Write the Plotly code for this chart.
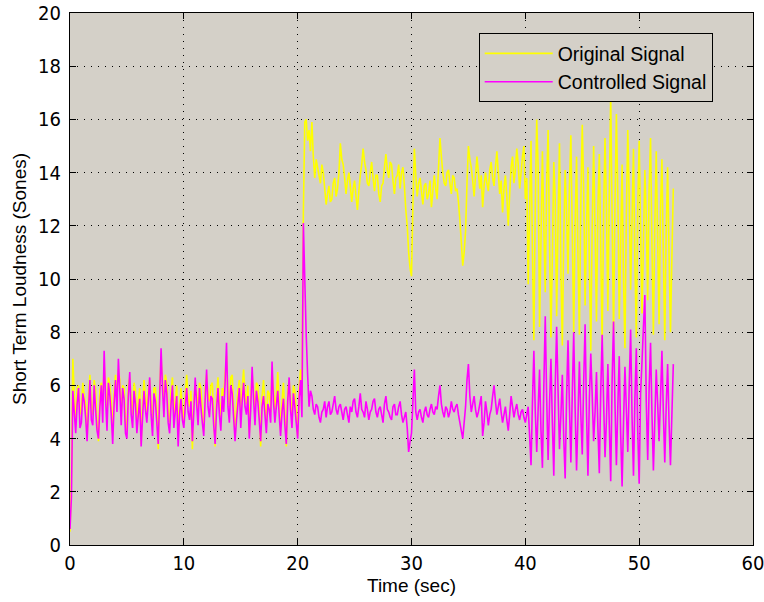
import plotly.graph_objects as go

DT = 0.125  # sampling step in seconds

original_signal = [
    # 0 - 20.375 s
    0.5, 2.5, 7.0, 5.6, 4.5, 5.9, 6.0, 4.9, 5.2, 6.1, 5.6, 5.3, 4.0, 5.6, 6.4, 5.2, 4.9, 6.2, 5.8, 4.6,
    3.9, 5.8, 6.1, 5.3, 6.8, 5.9, 4.9, 6.3, 6.0, 5.4, 4.2, 5.7, 6.4, 5.6, 6.6, 6.2, 4.8, 6.0, 5.9, 4.7,
    4.3, 6.0, 6.3, 5.5, 4.9, 6.1, 5.8, 4.5, 5.4, 5.9, 3.8, 5.3, 6.2, 5.6, 5.0, 5.8, 6.2, 5.4, 4.5, 5.9,
    5.9, 5.1, 3.6, 5.9, 7.0, 6.2, 5.3, 6.4, 6.1, 5.0, 4.6, 5.8, 6.3, 4.9, 5.4, 6.0, 4.0, 5.3, 5.9, 5.1,
    4.6, 5.7, 6.4, 5.5, 5.2, 5.8, 3.6, 5.4, 6.0, 5.7, 5.1, 6.1, 5.9, 5.0, 4.3, 5.9, 6.4, 5.7, 5.4, 6.0,
    6.1, 4.9, 3.7, 5.6, 6.3, 5.4, 4.8, 5.9, 5.6, 6.4, 7.1, 5.7, 5.2, 6.3, 6.4, 5.2, 4.1, 5.2, 5.8, 6.2,
    4.9, 5.9, 6.6, 5.7, 5.3, 6.0, 4.2, 5.5, 6.4, 5.8, 5.1, 6.1, 6.0, 5.0, 3.7, 5.6, 6.2, 5.3, 4.6, 5.8,
    5.7, 5.0, 6.5, 5.9, 5.1, 5.6, 6.5, 5.3, 4.3, 5.4, 6.1, 4.9, 3.7, 5.8, 6.2, 5.5, 4.8, 6.0, 5.8, 5.0,
    4.1, 5.9, 6.6, 5.4,
    # 20.5 - 21.125 s
    12.5, 15.9, 16.0, 15.2, 15.6, 14.8,
    # 21.25 - 40.125 s
    15.9, 14.6, 13.8, 14.5, 14.2, 13.9, 13.6, 14.3, 14.0, 13.4, 12.8, 13.2, 13.5, 12.9, 13.0, 13.6, 13.8, 13.1, 13.4, 14.0,
    15.1, 14.5, 14.3, 13.8, 13.2, 13.7, 14.0, 13.5, 12.9, 13.4, 13.7, 13.1, 12.6, 13.3, 13.9, 14.3, 14.9, 14.4, 14.1, 13.6,
    13.5, 14.0, 14.4, 13.8, 13.3, 13.9, 13.9, 13.2, 12.9, 13.5, 13.6, 14.2, 14.7, 14.1, 13.8, 14.4, 14.3, 13.7, 13.2, 13.8,
    13.9, 14.3, 13.4, 14.0, 14.2, 13.5, 12.6, 12.0, 11.0, 10.4, 10.1, 12.8, 14.9, 13.9, 13.1, 13.6, 13.8, 13.3, 12.8, 13.5,
    13.6, 13.0, 13.2, 13.7, 12.7, 13.3, 13.9, 13.4, 13.0, 14.2, 15.3, 14.6, 14.0, 13.6, 13.5, 14.0, 14.1, 13.6, 13.2, 13.9,
    13.8, 13.3, 13.4, 12.9, 12.2, 11.4, 10.5, 11.0, 11.8, 13.6, 15.0, 14.5, 14.2, 13.7, 13.1, 13.9, 14.6, 14.0, 13.4, 13.9,
    12.7, 13.5, 14.0, 13.6, 13.3, 14.1, 14.4, 13.8, 13.5, 14.2, 14.8, 14.0, 13.2, 13.7, 12.5, 13.4, 13.9, 13.1, 12.0, 13.2,
    14.2, 14.6, 13.6, 14.1, 14.9, 14.3, 13.4, 14.0, 14.6, 15.0, 13.0, 13.8,
    # 40.25 - 53.0 s
    9.8, 12.5, 15.2, 11.0, 7.7, 12.8, 16.0, 14.2, 8.2, 11.5, 14.8, 12.0, 9.5, 13.6, 15.6, 11.4, 7.8, 10.9, 14.4, 13.0,
    8.6, 12.2, 15.1, 10.3, 7.5, 11.6, 14.1, 12.4, 10.2, 13.5, 15.4, 11.7, 8.0, 12.1, 14.6, 10.8, 7.9, 12.9, 15.8, 13.4,
    9.0, 11.9, 14.2, 10.6, 7.3, 12.0, 15.0, 11.8, 8.4, 12.7, 14.7, 11.1, 7.6, 12.4, 15.3, 12.6, 8.8, 13.2, 16.9, 12.3,
    7.9, 12.8, 16.2, 13.1, 8.5, 11.3, 14.3, 10.0, 7.4, 12.5, 15.6, 13.0, 9.6, 12.2, 14.9, 10.7, 7.8, 12.6, 15.2, 11.9,
    8.7, 11.4, 14.1, 12.3, 9.2, 13.4, 15.3, 11.2, 7.9, 12.0, 14.8, 11.5, 8.3, 12.6, 14.5, 10.9, 7.7, 11.8, 14.2, 11.0,
    8.0, 10.8, 13.4,
]

controlled_signal = [
    # 0 - 20.375 s
    0.6, 1.8, 5.8, 5.0, 4.2, 5.3, 5.9, 4.4, 4.6, 5.7, 5.4, 4.8, 3.9, 5.1, 6.2, 4.7, 4.5, 6.0, 5.1, 4.3,
    4.0, 5.2, 6.0, 4.6, 7.3, 5.5, 4.3, 6.1, 5.6, 4.9, 3.8, 5.3, 6.2, 5.0, 7.0, 5.8, 4.5, 5.9, 5.5, 4.2,
    4.0, 5.6, 6.5, 4.9, 4.4, 5.8, 5.3, 4.2, 4.9, 5.5, 3.7, 4.8, 5.8, 5.1, 4.6, 5.4, 6.3, 4.9, 4.1, 5.7,
    5.4, 4.6, 3.8, 5.5, 7.4, 5.9, 4.8, 6.2, 5.7, 4.6, 4.2, 5.3, 6.0, 4.4, 5.0, 5.6, 3.7, 4.9, 5.5, 4.7,
    4.4, 5.2, 5.9, 5.0, 4.7, 5.4, 3.9, 5.0, 6.3, 5.3, 4.5, 5.9, 5.2, 4.6, 4.1, 5.5, 6.6, 5.2, 4.8, 5.6,
    5.5, 4.5, 3.8, 5.1, 5.9, 4.9, 4.3, 5.6, 5.0, 6.1, 7.6, 5.2, 4.6, 6.0, 5.7, 4.8, 3.9, 4.7, 5.3, 5.9,
    4.4, 5.4, 6.1, 5.2, 4.9, 5.6, 4.0, 5.1, 6.7, 5.5, 4.5, 5.8, 5.4, 4.7, 3.9, 5.2, 5.6, 4.9, 4.2, 5.3,
    5.1, 4.6, 6.9, 5.4, 4.6, 5.2, 5.8, 4.9, 4.1, 5.0, 5.5, 4.5, 3.8, 5.4, 6.3, 5.1, 4.4, 5.7, 5.2, 4.6,
    4.0, 5.5, 6.2, 4.8,
    # 20.5 - 21.125 s
    12.1, 10.0, 7.9, 6.4, 5.2, 5.8,
    # 21.25 - 40.125 s
    5.6, 5.1, 4.9, 5.3, 5.2, 4.8, 4.6, 5.0, 5.1, 5.4, 4.8, 5.2, 5.4, 4.9, 5.0, 5.3, 5.6, 5.1, 4.9, 5.2,
    5.3, 5.0, 4.7, 5.1, 5.2, 4.9, 4.6, 5.2, 5.0, 5.4, 5.5, 5.0, 4.8, 5.2, 5.7, 5.1, 5.0, 4.8, 5.4, 5.1,
    4.7, 5.0, 5.1, 5.4, 5.5, 5.0, 4.8, 5.1, 5.2, 4.9, 4.6, 5.3, 5.6, 5.1, 5.0, 4.8, 4.7, 5.2, 5.3, 4.9,
    4.9, 5.2, 5.4, 4.9, 4.6, 4.8, 5.0, 4.4, 3.5, 3.9, 4.2, 5.4, 6.6, 5.0, 4.7, 5.0, 5.1, 4.8, 4.6, 5.0,
    5.2, 4.9, 4.8, 5.1, 5.3, 5.0, 4.9, 5.2, 5.1, 5.6, 6.0, 5.3, 5.0, 4.8, 5.2, 5.1, 4.8, 5.0, 5.4, 5.1,
    5.0, 5.2, 5.3, 4.9, 4.6, 4.3, 4.0, 4.6, 5.2, 6.2, 6.8, 5.6, 5.0, 5.3, 5.6, 5.1, 4.8, 5.0, 5.3, 5.6,
    4.1, 4.6, 5.4, 5.0, 4.5, 4.9, 5.1, 5.6, 6.0, 5.4, 4.9, 5.2, 5.5, 5.0, 4.6, 4.9, 5.2, 4.7, 4.3, 4.9,
    5.6, 5.2, 4.8, 5.1, 5.3, 4.9, 4.7, 5.0, 5.1, 4.8, 4.6, 4.9,
    # 40.25 - 53.0 s
    5.2, 4.1, 3.0, 5.4, 7.3, 5.0, 3.5, 5.1, 6.6, 4.3, 2.9, 6.0, 8.6, 5.5, 3.2, 5.3, 7.0, 4.6, 2.6, 5.9,
    8.2, 5.8, 3.6, 4.9, 6.4, 4.0, 2.5, 5.6, 7.7, 5.2, 3.1, 5.7, 8.0, 5.1, 2.8, 4.8, 6.9, 4.9, 3.4, 6.1,
    8.3, 5.0, 2.6, 5.5, 7.2, 5.6, 3.9, 5.0, 6.5, 4.4, 2.7, 5.8, 7.9, 5.4, 3.3, 4.7, 6.8, 4.5, 2.4, 6.2,
    8.4, 5.3, 3.0, 5.2, 7.1, 4.2, 2.2, 4.6, 6.7, 5.1, 3.5, 6.0, 8.1, 4.8, 2.6, 5.5, 7.4, 4.3, 2.3, 5.7,
    6.9, 8.2, 9.4, 5.4, 3.2, 5.9, 7.6, 4.9, 2.8, 4.7, 6.6, 5.3, 3.9, 5.5, 7.3, 5.0, 3.1, 5.2, 6.8, 4.6,
    3.0, 4.9, 6.8,
]

t_orig = [i * DT for i in range(len(original_signal))]
t_ctrl = [i * DT for i in range(len(controlled_signal))]

x_ticks = [0, 10, 20, 30, 40, 50, 60]
y_ticks = [0, 2, 4, 6, 8, 10, 12, 14, 16, 18, 20]

fig = go.Figure()
fig.add_trace(go.Scatter(x=t_orig, y=original_signal, mode="lines",
                         name="Original Signal",
                         line=dict(color="#ffff00", width=1.6, simplify=False)))
fig.add_trace(go.Scatter(x=t_ctrl, y=controlled_signal, mode="lines",
                         name="Controlled Signal",
                         line=dict(color="#ff00ff", width=1.6, simplify=False)))

tick_font = dict(family="Liberation Sans Narrow, DejaVu Sans Condensed, Arial Narrow, sans-serif",
                 size=20, color="black")
title_font = dict(family="Liberation Sans, Arial, sans-serif", size=19, color="black")

fig.update_layout(
    width=764, height=602,
    margin=dict(l=70, r=11, t=13, b=57),
    paper_bgcolor="white",
    plot_bgcolor="#d4d0c8",
    font=title_font,
    showlegend=True,
    legend=dict(x=0.941, y=0.962, xanchor="right", yanchor="top",
                bgcolor="#d4d0c8", bordercolor="black", borderwidth=1,
                font=dict(family="Liberation Sans, Arial, sans-serif", size=19.5, color="black"),
                itemwidth=68, tracegroupgap=0),
    xaxis=dict(range=[0, 60], tickvals=x_ticks, ticktext=[str(v) for v in x_ticks],
               automargin=False, tickfont=tick_font, ticklabeloverflow="allow",
               showline=True, linecolor="black", linewidth=1, mirror="ticks",
               ticks="inside", ticklen=6, tickcolor="black",
               showgrid=True, gridcolor="black", gridwidth=1, griddash="1px,6px",
               zeroline=False,
               title=dict(text="Time (sec)", font=title_font, standoff=0)),
    yaxis=dict(range=[0, 20], tickvals=y_ticks, ticktext=[str(v) for v in y_ticks],
               automargin=False, tickfont=tick_font, ticklabelstandoff=4,
               ticklabeloverflow="allow",
               showline=True, linecolor="black", linewidth=1, mirror="ticks",
               ticks="inside", ticklen=6, tickcolor="black",
               showgrid=True, gridcolor="black", gridwidth=1, griddash="1px,6px",
               zeroline=False,
               title=dict(text="Short Term Loudness (Sones)", font=title_font, standoff=6)),
)

fig.write_html("out.html")
